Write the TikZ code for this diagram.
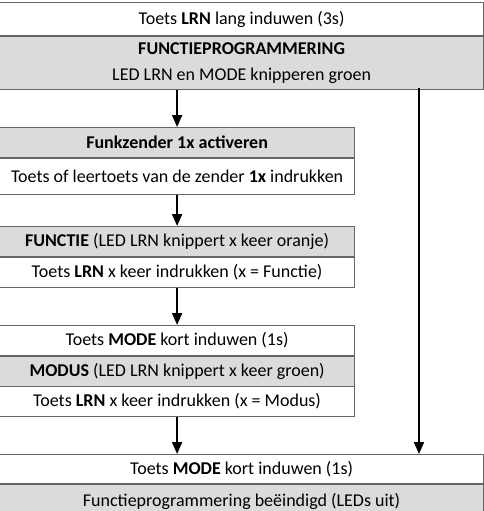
\documentclass[tikz,border=0pt]{standalone}
\usepackage{fontspec}
\setmainfont{Carlito}
\usetikzlibrary{matrix, positioning, arrows.meta}
\tikzset{
blok/.style={
  matrix of nodes,
  row sep=-\pgflinewidth,
  anchor=north west,
  inner sep=0pt,
  nodes={draw=black!60, line width=0.8pt, rectangle, minimum width=#1,
    inner sep=0pt, minimum height=30pt, font=\fontsize{18}{25}\selectfont}
},
grijs/.style={fill=black!14},
pijl/.style={-{Triangle[length=12pt,width=10pt]}, line width=2pt},
}

\begin{document}
\begin{tikzpicture}[x=1pt,y=-1pt]
\useasboundingbox (0,0) rectangle (484,511);

\matrix (start) [blok=484pt] at (-1,2) {
  |[minimum height=33pt]| Toets \textbf{LRN} lang induwen (3s) \\
  |[grijs, minimum height=53pt]| {\begin{tabular}{@{}c@{}}\textbf{FUNCTIEPROGRAMMERING}\\LED LRN en MODE knipperen groen\end{tabular}} \\
};
\matrix (zender) [blok=355pt] at (-1,127) {
  |[grijs]| \textbf{Funkzender 1x activeren} \\
  |[minimum height=36pt]| Toets of leertoets van de zender \textbf{1x} indrukken \\
};
\matrix (functie) [blok=355pt] at (-1,226) {
  |[grijs]| \textbf{FUNCTIE} (LED LRN knippert x keer oranje) \\
  Toets \textbf{LRN} x keer indrukken (x = Functie) \\
};
\matrix (modus) [blok=355pt] at (-1,325) {
  Toets \textbf{MODE} kort induwen (1s) \\
  |[grijs]| \textbf{MODUS} (LED LRN knippert x keer groen) \\
  Toets \textbf{LRN} x keer indrukken (x = Modus) \\
};
\matrix (eind) [blok=484pt] at (-1,454) {
  |[minimum height=29pt]| Toets \textbf{MODE} kort induwen (1s) \\
  |[grijs, minimum height=34pt]| Functieprogrammering beëindigd (LEDs uit) \\
};

\coordinate (rechts) at (419,88);
\draw[pijl] (start.south -| zender.north) -- (zender.north);
\draw[pijl] (zender.south) -- (functie.north);
\draw[pijl] (functie.south) -- (modus.north);
\draw[pijl] (modus.south) -- (eind.north -| modus.south);
\draw[pijl] (rechts) -- (rechts |- eind.north);
\end{tikzpicture}
\end{document}
